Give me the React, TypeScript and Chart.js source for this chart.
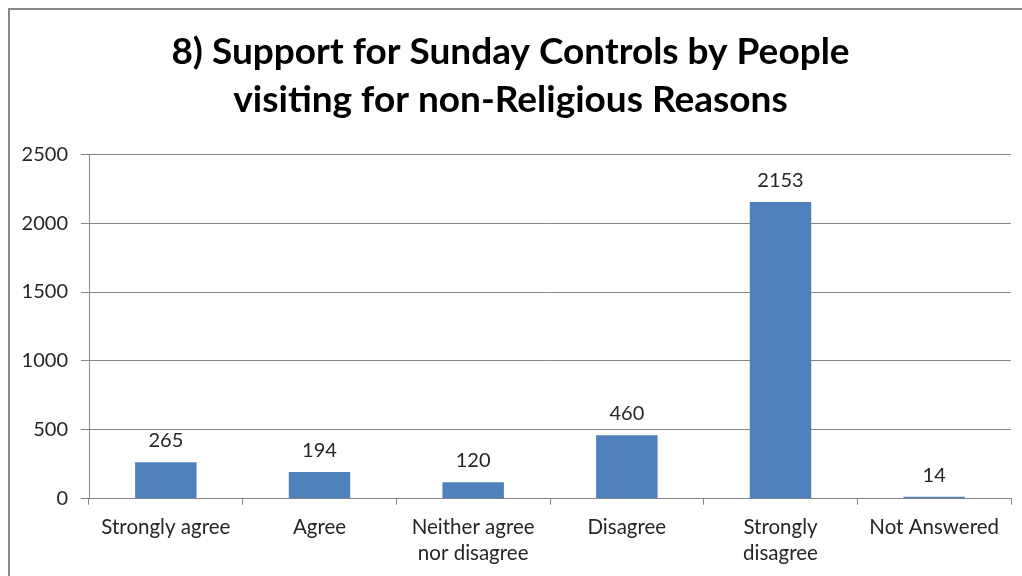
import React, { useEffect, useRef } from "react";
import { Chart, registerables } from "chart.js";

Chart.register(...registerables);

const titleLines = ["8) Support for Sunday Controls by People", "visiting for non-Religious Reasons"];
const categories: (string | string[])[] = [
  "Strongly agree",
  "Agree",
  ["Neither agree", "nor disagree"],
  "Disagree",
  ["Strongly", "disagree"],
  "Not Answered",
];
const responses = [265, 194, 120, 460, 2153, 14];
const yMin = 0;
const yMax = 2500;
const yStep = 500;

const FONT = "Lato, 'Open Sans', sans-serif";
const TEXT = "#262626";
const GRID = "#868686";

const valueLabels = {
  id: "valueLabels",
  afterDatasetsDraw(chart: any) {
    const ctx = chart.ctx;
    const meta = chart.getDatasetMeta(0);
    ctx.save();
    ctx.font = `20px ${FONT}`;
    ctx.fillStyle = TEXT;
    ctx.textAlign = "center";
    ctx.textBaseline = "alphabetic";
    meta.data.forEach((bar: any, i: number) => {
      ctx.fillText(String(chart.data.datasets[0].data[i]), bar.x, bar.y - 15);
    });
    ctx.restore();
  },
};

export default function App() {
  const ref = useRef<HTMLCanvasElement>(null);
  useEffect(() => {
    if (!ref.current) return;
    const chart = new Chart(ref.current, {
      type: "bar",
      data: {
        labels: categories,
        datasets: [
          {
            data: responses,
            backgroundColor: "#4F81BD",
            borderWidth: 0,
            barPercentage: 0.4,
            categoryPercentage: 1,
          },
        ],
      },
      options: {
        animation: false,
        responsive: true,
        maintainAspectRatio: false,
        layout: { padding: { left: 0, right: 11, top: 0, bottom: 0 } },
        plugins: {
          legend: { display: false },
          tooltip: { enabled: false },
          title: {
            display: true,
            text: titleLines,
            color: "#000",
            font: { family: FONT, size: 37, weight: "bold", lineHeight: 1.3 },
            padding: { top: 18, bottom: 30 },
          },
        },
        scales: {
          x: {
            offset: true,
            grid: {
              offset: true,
              drawOnChartArea: false,
              drawTicks: true,
              tickLength: 6,
              color: GRID,
            },
            border: { color: GRID, width: 1 },
            ticks: {
              color: TEXT,
              font: { family: FONT, size: 20.5, lineHeight: 1.3 },
              padding: 9,
              maxRotation: 0,
              autoSkip: false,
            },
          },
          y: {
            min: yMin,
            max: yMax,
            grid: { color: GRID, tickLength: 8 },
            border: { color: GRID, width: 1 },
            ticks: {
              stepSize: yStep,
              color: TEXT,
              font: { family: FONT, size: 20 },
              padding: 13,
              callback: (v: any) => String(v),
            },
            afterFit(scale: any) {
              scale.width = 79;
            },
          },
        },
      },
      plugins: [valueLabels],
    });
    return () => chart.destroy();
  }, []);

  return (
    <div
      style={{
        position: "fixed",
        left: 8,
        top: 8,
        width: 1014,
        height: 568,
        borderLeft: "2px solid #888",
        borderTop: "2px solid #888",
        background: "#fff",
        boxSizing: "border-box",
      }}
    >
      <div style={{ position: "relative", width: 1012, height: 566 }}>
        <canvas ref={ref} />
      </div>
    </div>
  );
}
